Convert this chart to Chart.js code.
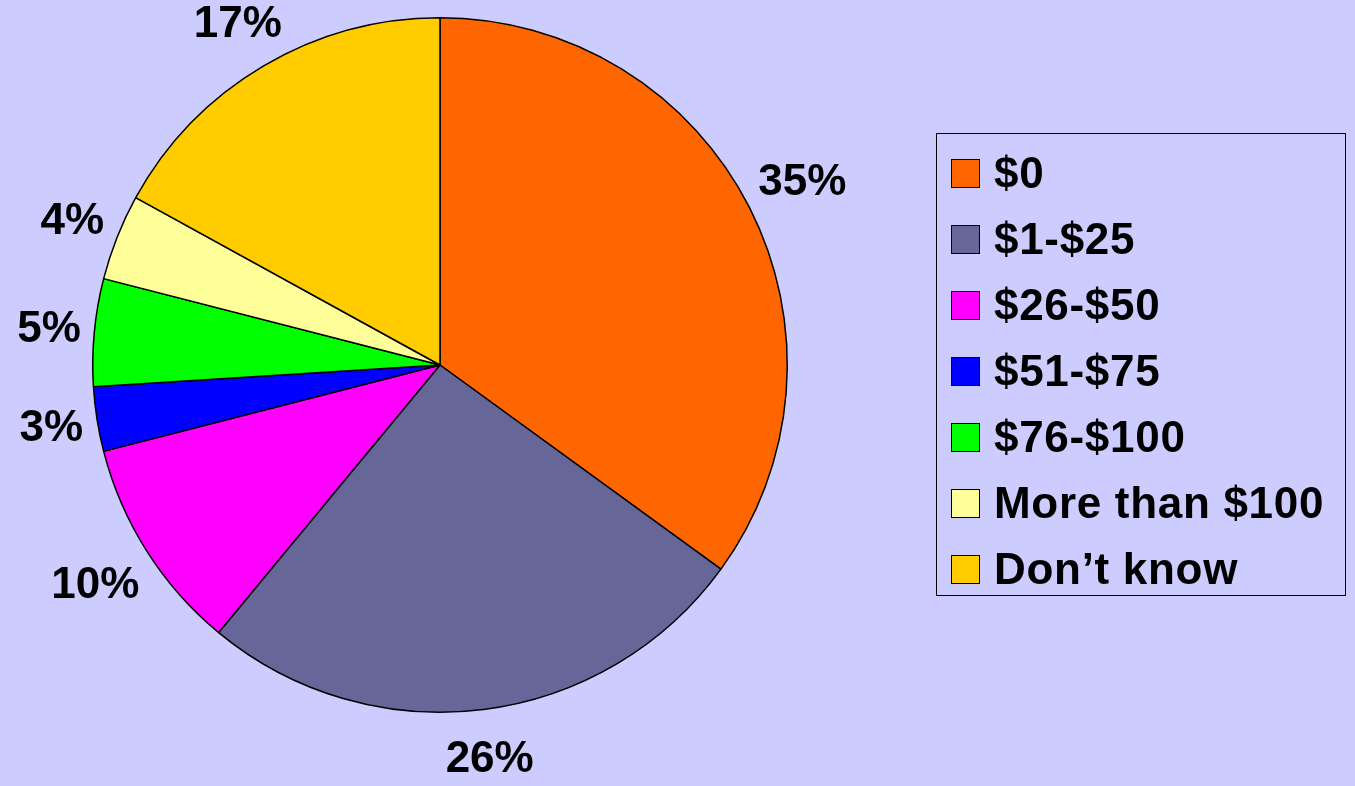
<!DOCTYPE html>
<html>
<head>
<meta charset="utf-8">
<script src="https://cdn.jsdelivr.net/npm/chart.js@4/dist/chart.umd.min.js"></script>
<style>
    html, body { margin: 0; padding: 0; background: #CCCCFF; }
    #wrap { position: relative; width: 1355px; height: 786px; }
    #legendBox {
        position: absolute; left: 936px; top: 133px; width: 410px; height: 463px;
        border: 1.5px solid #000; box-sizing: border-box;
        font: bold 44px "Liberation Sans", Arial, sans-serif; color: #000; letter-spacing: 0.7px;
    }
    .row { position: absolute; left: 14px; height: 40px; display: flex; align-items: center; white-space: nowrap; }
    .sw { width: 27px; height: 27px; border: 1.5px solid #000; margin-right: 14px; flex: none; }
</style>
</head>
<body>
<div id="wrap">
    <canvas id="pie" width="1355" height="786"></canvas>
    <div id="legendBox"></div>
</div>
<script>
const categories = ["$0", "$1-$25", "$26-$50", "$51-$75", "$76-$100", "More than $100", "Don\u2019t know"]
const percents = [35, 26, 10, 3, 5, 4, 17]
const colors = ["#FF6600", "#666699", "#FF00FF", "#0000FF", "#00FF00", "#FFFF99", "#FFCC00"]

const labelFont = 'bold 44px "Liberation Sans", Arial, sans-serif'

// percent labels just outside each slice
const outsideLabels = {
    id: 'outsideLabels',
    afterDatasetsDraw(chart) {
        const ctx = chart.ctx
        const meta = chart.getDatasetMeta(0)
        ctx.save()
        ctx.font = labelFont
        ctx.fillStyle = '#000'
        ctx.textAlign = 'center'
        ctx.textBaseline = 'middle'
        meta.data.forEach((arc, i) => {
            const p = arc.getProps(['x', 'y', 'startAngle', 'endAngle', 'outerRadius'], true)
            const mid = (p.startAngle + p.endAngle) / 2
            const text = percents[i] + '%'
            const hw = ctx.measureText(text).width / 2
            const s = Math.sin(mid)
            let d = p.outerRadius + 12 + Math.abs(Math.cos(mid)) * hw + Math.abs(s) * 18
            if (s > 0) d += 14 * s * s * s
            ctx.fillText(text, p.x + Math.cos(mid) * d, p.y + s * d + 2)
        })
        ctx.restore()
    }
}

const chart = new Chart(document.getElementById('pie'), {
    type: 'pie',
    data: {
        labels: categories,
        datasets: [{
            data: percents,
            backgroundColor: colors,
            borderColor: '#000',
            borderWidth: 1.5
        }]
    },
    options: {
        responsive: false,
        animation: false,
        layout: { padding: { left: 92, top: 17, right: 567, bottom: 73 } },
        plugins: {
            legend: { display: false },
            tooltip: { enabled: false }
        }
    },
    plugins: [outsideLabels]
})

// html legend
const box = document.getElementById('legendBox')
categories.forEach((c, i) => {
    const row = document.createElement('div')
    row.className = 'row'
    row.style.top = (19 + i * 66) + 'px'
    row.innerHTML = `<span class="sw" style="background:${colors[i]}"></span><span>${c}</span>`
    box.appendChild(row)
})
</script>
</body>
</html>
